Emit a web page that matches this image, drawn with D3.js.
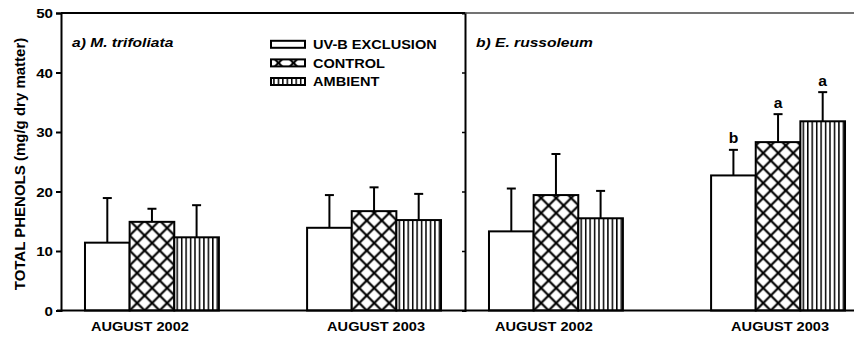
<!DOCTYPE html>
<html>
<head>
<meta charset="utf-8">
<script src="https://cdn.jsdelivr.net/npm/d3@7"></script>
<style>
  html, body { margin: 0; padding: 0; background: #fff; }
  svg { display: block; }
  text { font-family: "Liberation Sans", Arial, sans-serif; font-weight: bold; fill: #000; }
</style>
</head>
<body>
<svg id="chart" width="854" height="337"></svg>
<script>
// Total phenols (mg/g dry matter) under three UV-B treatments, two species
const categories = ["AUGUST 2002", "AUGUST 2003"];
const treatments = ["UV-B EXCLUSION", "CONTROL", "AMBIENT"];
const yTicks = [0, 10, 20, 30, 40, 50];

// a) M. trifoliata : means and error (upper bar) per month, per treatment
const trifoliataMean = [[11.4, 14.9, 12.3], [13.9, 16.7, 15.2]];
const trifoliataErr  = [[7.5, 2.2, 5.4], [5.5, 4.0, 4.4]];

// b) E. russoleum
const russoleumMean = [[13.3, 19.4, 15.5], [22.7, 28.3, 31.8]];
const russoleumErr  = [[7.2, 6.9, 4.6], [4.3, 4.7, 4.9]];
const russoleumLetters = [["", "", ""], ["b", "a", "a"]];

const svg = d3.select("#chart");
const defs = svg.append("defs");

const y = d3.scaleLinear().domain([0, 50]).range([310.5, 13]);
const SX = 1.12; // horizontal widening of the lettering

function stretchedText(g, x, yy, str, size, anchor, italic, sx) {
  return g.append("text")
    .attr("transform", `translate(${x},${yy}) scale(${sx || SX},1)`)
    .attr("text-anchor", anchor || "start")
    .style("font-size", size + "px")
    .style("font-style", italic ? "italic" : "normal")
    .text(str);
}

let patId = 0;
function crossPattern(x0, y0) {
  const id = "cross" + (patId++);
  const p = defs.append("pattern").attr("id", id)
    .attr("patternUnits", "userSpaceOnUse")
    .attr("x", x0).attr("y", y0).attr("width", 15).attr("height", 15);
  p.append("rect").attr("width", 15).attr("height", 15).attr("fill", "#fff");
  p.append("path").attr("d", "M-2,-2L17,17M17,-2L-2,17M-2,13L2,17M13,-2L17,2M13,17L17,13M-2,2L2,-2")
    .attr("stroke", "#000").attr("stroke-width", 2.2).attr("fill", "none");
  return id;
}
function stripePattern(x0) {
  const id = "stripe" + (patId++);
  const p = defs.append("pattern").attr("id", id)
    .attr("patternUnits", "userSpaceOnUse")
    .attr("x", x0 + 2.2).attr("y", 0).attr("width", 4.45).attr("height", 10);
  p.append("rect").attr("width", 4.45).attr("height", 10).attr("fill", "#fff");
  p.append("rect").attr("x", 0).attr("width", 1.5).attr("height", 10).attr("fill", "#000");
  return id;
}
function fillFor(t, x0, y0) {
  if (t === 0) return "#fff";
  if (t === 1) return `url(#${crossPattern(x0, y0)})`;
  return `url(#${stripePattern(x0)})`;
}

const labelShift = [-12, 2];

function drawPanel(x0, x1, means, errs, letters, title, leftAxis) {
  const g = svg.append("g");
  const x = d3.scaleBand().domain(categories).range([x0, x1])
    .paddingInner(0.397).paddingOuter(0.108);
  const xs = d3.scaleBand().domain(d3.range(treatments.length)).range([0, x.bandwidth()]);

  // bars
  categories.forEach((c, ci) => {
    treatments.forEach((t, ti) => {
      const bx = x(c) + xs(ti), bw = xs.bandwidth();
      const top = y(means[ci][ti]), base = y(0);
      const errTop = y(means[ci][ti] + errs[ci][ti]);
      const cx = bx + bw / 2;
      // error bar
      g.append("line").attr("x1", cx).attr("x2", cx).attr("y1", top).attr("y2", errTop)
        .attr("stroke", "#000").attr("stroke-width", 2);
      g.append("line").attr("x1", cx - 4.5).attr("x2", cx + 4.5).attr("y1", errTop).attr("y2", errTop)
        .attr("stroke", "#000").attr("stroke-width", 2);
      g.append("rect").attr("x", bx).attr("y", top).attr("width", bw).attr("height", base - top)
        .attr("fill", fillFor(ti, bx, base)).attr("stroke", "#000").attr("stroke-width", 2);
      const lab = letters ? letters[ci][ti] : "";
      if (lab) {
        stretchedText(g, cx, errTop - 6.5, lab, 14, "middle");
      }
    });
    // category label
    stretchedText(g, x(c) + x.bandwidth() / 2 + labelShift[ci], 331, c, 13, "middle");
  });

  // baseline
  g.append("line").attr("x1", leftAxis ? x0 - 4 : x0).attr("x2", x1).attr("y1", y(0)).attr("y2", y(0))
    .attr("stroke", "#000").attr("stroke-width", 2);

  // vertical axis
  const axis = d3.axisLeft(y).tickValues(yTicks).tickSizeOuter(0)
    .tickSize(leftAxis ? 5 : 3).tickFormat(leftAxis ? d3.format("d") : () => "");
  const ag = g.append("g").attr("transform", `translate(${x0},0)`).call(axis);
  ag.select(".domain").attr("stroke", "#000").attr("stroke-width", 2);
  ag.selectAll(".tick line").attr("stroke", "#000").attr("stroke-width", leftAxis ? 2 : 1.5);
  if (!leftAxis) ag.selectAll(".tick").filter(d => d === 0 || d === 50).remove();
  ag.selectAll(".tick text")
    .attr("x", null).attr("dy", null)
    .attr("transform", `translate(-8,4.8) scale(${SX},1)`)
    .style("font-family", "'Liberation Sans', Arial, sans-serif")
    .style("font-weight", "bold").style("font-size", "13.5px").attr("fill", "#000");
  ag.attr("font-size", null);

  // top frame line
  g.append("line").attr("x1", x0).attr("x2", x1).attr("y1", y(50)).attr("y2", y(50))
    .attr("stroke", leftAxis ? "#000" : "#444").attr("stroke-width", leftAxis ? 2 : 1.6);

  // panel title
  stretchedText(g, x0 + 11, 47, title, 13, "start", true, 1.2);
  return x;
}

drawPanel(61, 465, trifoliataMean, trifoliataErr, null, "a) M. trifoliata", true);
drawPanel(465, 869, russoleumMean, russoleumErr, russoleumLetters, "b) E. russoleum", false);

// legend
const legend = svg.append("g");
const ly = d3.scalePoint().domain(d3.range(treatments.length)).range([44.3, 81.5]);
treatments.forEach((t, i) => {
  const yy = ly(i);
  const bx = 271, bw = 34, bh = 7;
  legend.append("rect").attr("x", bx).attr("y", yy - bh / 2).attr("width", bw).attr("height", bh)
    .attr("fill", fillFor(i, bx, yy + bh / 2 + 4)).attr("stroke", "#000").attr("stroke-width", 2);
  stretchedText(legend, 313, yy + 4.6, t, 13, "start");
});

// y axis title
svg.append("text")
  .attr("transform", "translate(25,164) rotate(-90)")
  .attr("text-anchor", "middle")
  .style("font-size", "15px")
  .text("TOTAL PHENOLS (mg/g dry matter)");
</script>
</body>
</html>
